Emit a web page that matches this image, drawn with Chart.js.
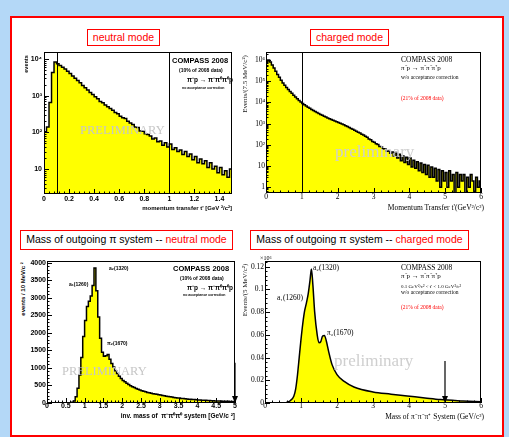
<!DOCTYPE html>
<html>
<head>
<meta charset="utf-8">
<script src="https://cdn.jsdelivr.net/npm/chart.js@4.4.0/dist/chart.umd.min.js"></script>
<style>
html, body { margin: 0; padding: 0; }
body { width: 509px; height: 437px; background: #b4d8f7; position: relative; overflow: hidden;
       font-family: "Liberation Sans", Arial, sans-serif; }
#sheet { position: absolute; left: 10px; top: 16px; width: 494px; height: 421px; background: #fff;
         border: 2px solid #f00; box-sizing: border-box; }
canvas { position: absolute; z-index: 1; }
.box { position: absolute; z-index: 3; border: 1.5px solid #f00; background: #fff; box-sizing: border-box;
       font-size: 10.5px; color: #f00; text-align: center; white-space: nowrap; }
.t { position: absolute; z-index: 3; white-space: nowrap; line-height: 1; transform: translateY(-50%); }
.r { position: absolute; z-index: 3; white-space: nowrap; line-height: 1; transform: translate(-50%, -50%) rotate(-90deg); }
.b { font-weight: bold; }
.s { font-family: "Liberation Serif", "Times New Roman", serif; }
.red { color: #f00; }
.wm { color: #c6c6c6; font-family: "Liberation Serif", "Times New Roman", serif; }
</style>
</head>
<body>
<div id="sheet"></div>

<!-- section labels -->
<div class="box" style="left:87px;top:29px;width:73px;height:17px;line-height:14px">neutral mode</div>
<div class="box" style="left:310px;top:29px;width:79px;height:17px;line-height:14px">charged mode</div>
<div class="box" style="left:20px;top:230px;width:213px;height:20px;line-height:17px"><span style="color:#000">Mass of outgoing π system -- </span>neutral mode</div>
<div class="box" style="left:250px;top:230px;width:219px;height:20px;line-height:17px"><span style="color:#000">Mass of outgoing π system -- </span>charged mode</div>

<!-- neutral t' -->
<div class="r b" style="left:27px;top:64px;font-size:5.5px">events</div>
<div class="t b" style="right:277px;top:208px;font-size:6px">momentum transfer t' [GeV ²/c²]</div>
<div class="t b" style="left:172px;top:61px;font-size:7.5px">COMPASS 2008</div>
<div class="t b" style="left:179px;top:70px;font-size:5px">(10% of 2008 data)</div>
<div class="t b" style="left:187px;top:79.5px;font-size:6.5px">π⁻p → π⁻π⁰π⁰p</div>
<div class="t b" style="left:182px;top:88.5px;font-size:3.5px">no acceptance correction</div>
<div class="t wm" style="left:80px;top:130px;font-size:12.5px">PRELIMINARY</div>

<!-- charged t' -->
<div class="r s" style="left:245px;top:84px;font-size:7px;color:#222">Events/(7.5 MeV/c²)</div>
<div class="t s" style="right:25px;top:208px;font-size:7.5px">Momentum Transfer t'(GeV²/c²)</div>
<div class="t s" style="left:401px;top:59.5px;font-size:7.5px">COMPASS 2008</div>
<div class="t s" style="left:401px;top:67.5px;font-size:7px">π⁻p → π⁻π⁻π⁺p</div>
<div class="t s" style="left:401px;top:77.5px;font-size:5.5px">w/o acceptance correction</div>
<div class="t s red" style="left:401px;top:98.5px;font-size:5.5px">(21% of 2008 data)</div>
<div class="t wm" style="left:335px;top:151px;font-size:17px;color:#cfcfcf">preliminary</div>

<!-- neutral mass -->
<div class="r b" style="left:22.5px;top:289px;font-size:6px">events / 10 MeV/c ²</div>
<div class="t b" style="right:274px;top:415.5px;font-size:6.5px">inv. mass of &nbsp;π⁻π⁰π⁰ system [GeV/c ²]</div>
<div class="t b" style="left:173px;top:269px;font-size:7.5px">COMPASS 2008</div>
<div class="t b" style="left:180px;top:277.5px;font-size:5px">(10% of 2008 data)</div>
<div class="t b" style="left:187px;top:287.5px;font-size:6.5px">π⁻p → π⁻π⁰π⁰p</div>
<div class="t b" style="left:183px;top:295.5px;font-size:3.5px">no acceptance correction</div>
<div class="t b" style="left:109px;top:267.5px;font-size:5px">a₂(1320)</div>
<div class="t b" style="left:69px;top:283.5px;font-size:5px">a₁(1260)</div>
<div class="t b" style="left:107px;top:342.5px;font-size:5px">π₂(1670)</div>
<div class="t wm" style="left:62px;top:371px;font-size:12.5px">PRELIMINARY</div>

<!-- charged mass -->
<div class="r s" style="left:245px;top:290px;font-size:7px;color:#222">Events/(5 MeV/c²)</div>
<div class="t s" style="right:25px;top:416.5px;font-size:7.5px">Mass of π⁻π⁻π⁺ System (GeV/c²)</div>
<div class="t s" style="left:260px;top:258px;font-size:6px">×10⁶</div>
<div class="t s" style="left:401px;top:268px;font-size:7.5px">COMPASS 2008</div>
<div class="t s" style="left:401px;top:276px;font-size:7px">π⁻p → π⁻π⁻π⁺p</div>
<div class="t s" style="left:401px;top:286px;font-size:5px">0.1 GeV²/c² &lt; t' &lt; 1.0 GeV²/c²</div>
<div class="t s" style="left:401px;top:293px;font-size:5.5px">w/o acceptance correction</div>
<div class="t s red" style="left:401px;top:308px;font-size:5.5px">(21% of 2008 data)</div>
<div class="t s" style="left:313px;top:268px;font-size:7.5px">a₂(1320)</div>
<div class="t s" style="left:277px;top:297.5px;font-size:7.5px">a₁(1260)</div>
<div class="t s" style="left:327px;top:333px;font-size:7.5px">π₂(1670)</div>
<div class="t wm" style="left:334px;top:360px;font-size:17px;color:#cfcfcf">preliminary</div>

<div id="charts"></div>

<script>
// === 数据 ===
// neutral mode, t' 分布 (bins of 0.02 GeV²/c², starting at 0)
const ntBinStart = 0;
const ntBinWidth = 0.02;
const ntCounts = [
  105, 140, 650, 4300, 8300, 7400, 6600, 6000, 5300, 4600,
  4000, 3450, 3000, 2600, 2250, 1900, 1650, 1420, 1230, 1070,
  940, 820, 700, 640, 560, 500, 445, 400, 350, 320,
  275, 250, 240, 200, 180, 165, 140, 135, 110, 108,
  92, 88, 80, 66, 70, 56, 58, 45, 52, 40,
  48, 34, 38, 30, 33, 25, 30, 22, 26, 18,
  22, 15, 19, 14, 17, 11, 15, 10, 12, 8,
  11, 7, 9, 6, 10
];
const ntCuts = [0.1, 1.0];
const ntXTicks = [0, 0.2, 0.4, 0.6, 0.8, 1, 1.2, 1.4];
const ntYTicks = [10, 100, 1000, 10000];

// charged mode, t' 分布 (bins of 0.05 GeV²/c²)
const ctBinStart = 0;
const ctBinWidth = 0.05;
const ctCounts = [
  9.0e5, 1.0e6, 8.0e5, 5.8e5, 4.2e5, 3.0e5, 2.1e5, 1.55e5, 1.12e5, 8.4e4,
  6.5e4, 5.1e4, 4.1e4, 3.3e4, 2.7e4, 2.2e4, 1.8e4, 1.5e4, 1.25e4, 1.05e4,
  9000, 7800, 6800, 6000, 5300, 4700, 4200, 3800, 3400, 3050,
  2750, 2500, 2250, 2050, 1880, 1720, 1580, 1450, 1340, 1240,
  1140, 1050, 960, 880, 800, 730, 660, 600, 540, 490,
  445, 400, 365, 320, 290, 255, 230, 190, 175, 145,
  135, 112, 105, 85, 82, 66, 64, 50, 52, 40,
  46, 30, 44, 24, 36, 18, 30, 15, 26, 12,
  24, 9, 19, 8, 16, 6, 14, 5, 12, 4,
  11, 3, 9, 3, 8, 2, 7, 1, 6, 2,
  5, 1, 6, 2, 4, 0.1, 5, 1, 4, 2,
  4, 0.1, 3, 1, 4, 2, 0.1, 3, 1, 2
];
const ctCuts = [1.0];
const ctXTicks = [0, 1, 2, 3, 4, 5, 6];
const ctYTicks = [1, 10, 100, 1e3, 1e4, 1e5, 1e6];

// neutral mode, 3π 不变质量 (bins of 0.05 GeV/c²)
const nmBinStart = 0;
const nmBinWidth = 0.05;
const nmCounts = [
  0, 0, 0, 0, 0, 0, 0, 0, 0, 0,
  0, 0, 5, 20, 60, 180, 420, 800, 1300, 1900,
  2350, 2750, 2900, 3050, 3350, 3850, 3200, 2450, 1850, 1450,
  1330, 1350, 1380, 1250, 1130, 1030, 920, 840, 760, 700,
  640, 605, 560, 530, 495, 460, 440, 410, 392, 370,
  352, 333, 322, 303, 292, 278, 266, 254, 246, 233,
  226, 212, 206, 192, 186, 175, 169, 159, 153, 145,
  141, 131, 128, 121, 116, 109, 106, 99, 97, 91,
  88, 83, 81, 77, 75, 71, 69, 65, 63, 59,
  58, 55, 55, 51, 50, 47, 48, 44, 45, 41
];
const nmArrow = { x: 5, from: 1150 };
const nmXTicks = [0, 0.5, 1, 1.5, 2, 2.5, 3, 3.5, 4, 4.5, 5];
const nmYTicks = [0, 500, 1000, 1500, 2000, 2500, 3000, 3500, 4000];

// charged mode, 3π 不变质量 (x10^6 events)
const cmMass = [0, 0.5, 0.6, 0.7, 0.8, 0.85, 0.9, 0.95, 1.0, 1.05, 1.1, 1.15, 1.2, 1.25, 1.29,
  1.33, 1.38, 1.45, 1.5, 1.55, 1.6, 1.65, 1.7, 1.77, 1.86, 2.0, 2.2, 2.47, 3.0, 3.5, 3.95, 4.5, 4.87, 5.5, 6.0];
const cmCounts = [0, 0, 0.0005, 0.002, 0.006, 0.012, 0.024, 0.04, 0.056, 0.07, 0.081, 0.088, 0.096, 0.108, 0.118,
  0.104, 0.08, 0.06, 0.053, 0.054, 0.059, 0.0595, 0.055, 0.045, 0.034, 0.025, 0.019, 0.0141, 0.0097, 0.0078, 0.0062, 0.0042, 0.003, 0.0018, 0.001];
const cmArrow = { x: 5, from: 0.037 };
const cmXTicks = [0, 1, 2, 3, 4, 5, 6];
const cmYTicks = [0, 0.02, 0.04, 0.06, 0.08, 0.1, 0.12];

// === 工具函数 ===
const SANS = '"Liberation Sans", Arial, sans-serif';
const SERIF = '"Liberation Serif", "Times New Roman", serif';
const SUP = { '0': '⁰', '1': '¹', '2': '²', '3': '³', '4': '⁴', '5': '⁵', '6': '⁶', '7': '⁷', '8': '⁸', '9': '⁹' };

function decadeLabel(v) {
  const e = Math.round(Math.log10(v));
  if (e === 0) return '1';
  if (e === 1) return '10';
  return '10' + String(e).split('').map(c => SUP[c]).join('');
}
function numLabel(v) { return String(parseFloat(Number(v).toFixed(3))); }

// 直方图: 每个 bin 的左边缘一个点, 再补上最后一个右边缘
function histPoints(start, width, counts) {
  const pts = counts.map((c, i) => ({ x: start + i * width, y: c }));
  pts.push({ x: start + counts.length * width, y: counts[counts.length - 1] });
  return pts;
}

// ROOT 风格: 框线, 向内的刻度, cut 竖线, 箭头
const rootAxes = {
  id: 'rootAxes',
  afterDatasetsDraw(chart, args, o) {
    const { ctx, chartArea: a } = chart;
    const xs = chart.scales.x, ys = chart.scales.y;
    ctx.save();
    ctx.strokeStyle = '#000';
    ctx.fillStyle = '#000';
    ctx.lineWidth = 1;
    ctx.beginPath();
    (o.cuts || []).forEach(v => {
      const px = Math.round(xs.getPixelForValue(v)) + 0.5;
      ctx.moveTo(px, a.top); ctx.lineTo(px, a.bottom);
    });
    const nx = Math.round((xs.max - xs.min) / o.xMinor);
    for (let i = 0; i <= nx; i++) {
      const v = xs.min + i * o.xMinor;
      if (v > xs.max + 1e-9) break;
      const major = Math.abs(v / o.xMajor - Math.round(v / o.xMajor)) < 1e-6;
      const px = Math.round(xs.getPixelForValue(v)) + 0.5;
      ctx.moveTo(px, a.bottom); ctx.lineTo(px, a.bottom - (major ? 5 : 2.5));
    }
    if (o.log) {
      for (let e = Math.floor(Math.log10(ys.min)); e <= Math.ceil(Math.log10(ys.max)); e++) {
        for (let m = 1; m < 10; m++) {
          const v = m * Math.pow(10, e);
          if (v < ys.min || v > ys.max) continue;
          const py = Math.round(ys.getPixelForValue(v)) + 0.5;
          ctx.moveTo(a.left, py); ctx.lineTo(a.left + (m === 1 ? 5 : 2.5), py);
        }
      }
    } else {
      const ny = Math.round((ys.max - ys.min) / o.yMinor);
      for (let i = 0; i <= ny; i++) {
        const v = ys.min + i * o.yMinor;
        if (v > ys.max + 1e-9) break;
        const major = Math.abs(v / o.yMajor - Math.round(v / o.yMajor)) < 1e-6;
        const py = Math.round(ys.getPixelForValue(v)) + 0.5;
        ctx.moveTo(a.left, py); ctx.lineTo(a.left + (major ? 5 : 2.5), py);
      }
    }
    ctx.stroke();
    if (o.arrow) {
      const px = xs.getPixelForValue(o.arrow.x);
      const top = ys.getPixelForValue(o.arrow.from);
      ctx.beginPath();
      ctx.lineWidth = 1.2;
      ctx.moveTo(px, top); ctx.lineTo(px, a.bottom - 6);
      ctx.stroke();
      ctx.beginPath();
      ctx.moveTo(px - 3, a.bottom - 7); ctx.lineTo(px + 3, a.bottom - 7); ctx.lineTo(px, a.bottom);
      ctx.closePath(); ctx.fill();
    }
    ctx.lineWidth = 1;
    ctx.strokeRect(a.left + 0.5, a.top + 0.5, a.width - 1, a.height - 1);
    ctx.restore();
  }
};

function drawPanel(p) {
  const [left, top, w, h] = p.plot;
  const cv = document.createElement('canvas');
  cv.width = p.L + w + p.R;
  cv.height = p.T + h + p.B;
  cv.style.left = (left - p.L) + 'px';
  cv.style.top = (top - p.T) + 'px';
  document.getElementById('charts').appendChild(cv);

  const font = p.serif ? { family: SERIF, size: 7.5 } : { family: SANS, size: 7, weight: 'bold' };
  const common = {
    bounds: 'data',
    grid: { display: false, drawTicks: false },
    border: { display: false },
  };

  return new Chart(cv, {
    type: 'line',
    data: {
      datasets: [{
        data: p.points,
        stepped: p.stepped || false,
        cubicInterpolationMode: p.stepped ? 'default' : 'monotone',
        borderColor: '#000',
        borderWidth: p.lineWidth,
        backgroundColor: '#ffff00',
        fill: p.fill,
        pointRadius: 0
      }]
    },
    options: {
      responsive: false,
      animation: false,
      devicePixelRatio: 1,
      layout: { padding: { top: p.T, right: p.R, left: 0, bottom: 0 }, autoPadding: false },
      plugins: { legend: { display: false }, tooltip: { enabled: false }, rootAxes: p.axes },
      scales: {
        x: {
          ...common,
          type: 'linear', min: p.xMin, max: p.xMax,
          ticks: { font, color: '#000', padding: p.xPad, maxRotation: 0, minRotation: 0, autoSkip: false,
                   callback: v => numLabel(v) },
          afterBuildTicks: s => { s.ticks = p.xTicks.map(v => ({ value: v })); },
          afterFit: s => { s.height = p.B; s.paddingLeft = 0; s.paddingRight = 0; }
        },
        y: {
          ...common,
          type: p.axes.log ? 'logarithmic' : 'linear', min: p.yMin, max: p.yMax,
          ticks: { font, color: '#000', padding: p.yPad, autoSkip: false,
                   callback: v => p.axes.log ? decadeLabel(v) : numLabel(v) },
          afterBuildTicks: s => { s.ticks = p.yTicks.map(v => ({ value: v })); },
          afterFit: s => { s.width = p.L; s.paddingTop = 0; s.paddingBottom = 0; }
        }
      }
    },
    plugins: [rootAxes]
  });
}

// === 四个面板 ===
drawPanel({
  plot: [44, 52, 188, 142], L: 34, T: 6, R: 12, B: 14,
  points: histPoints(ntBinStart, ntBinWidth, ntCounts), stepped: true, fill: 'start', lineWidth: 1.5,
  xMin: 0, xMax: 1.5, yMin: 2.1, yMax: 15500, xTicks: ntXTicks, yTicks: ntYTicks, xPad: 1, yPad: 2,
  axes: { log: true, xMajor: 0.2, xMinor: 0.04, cuts: ntCuts }
});

drawPanel({
  plot: [266, 52, 215, 141], L: 16, T: 6, R: 12, B: 14, serif: true,
  points: histPoints(ctBinStart, ctBinWidth, ctCounts), stepped: true, fill: 'start', lineWidth: 1.5,
  xMin: 0, xMax: 6, yMin: 0.54, yMax: 2.4e6, xTicks: ctXTicks, yTicks: ctYTicks, xPad: 0, yPad: 1,
  axes: { log: true, xMajor: 1, xMinor: 0.2, cuts: ctCuts }
});

drawPanel({
  plot: [47, 261, 188, 142], L: 20, T: 6, R: 10, B: 12,
  points: histPoints(nmBinStart, nmBinWidth, nmCounts), stepped: true, fill: 'origin', lineWidth: 1.5,
  xMin: 0, xMax: 5, yMin: 0, yMax: 4050, xTicks: nmXTicks, yTicks: nmYTicks, xPad: -1, yPad: 1,
  axes: { log: false, xMajor: 0.5, xMinor: 0.1, yMajor: 500, yMinor: 100, arrow: nmArrow }
});

drawPanel({
  plot: [265, 261, 216, 142], L: 17, T: 6, R: 12, B: 12, serif: true,
  points: cmMass.map((m, i) => ({ x: m, y: cmCounts[i] })), stepped: false, fill: 'origin', lineWidth: 1.5,
  xMin: 0, xMax: 6, yMin: 0, yMax: 0.125, xTicks: cmXTicks, yTicks: cmYTicks, xPad: -1, yPad: 1,
  axes: { log: false, xMajor: 1, xMinor: 0.2, yMajor: 0.02, yMinor: 0.004, arrow: cmArrow }
});
</script>
</body>
</html>
